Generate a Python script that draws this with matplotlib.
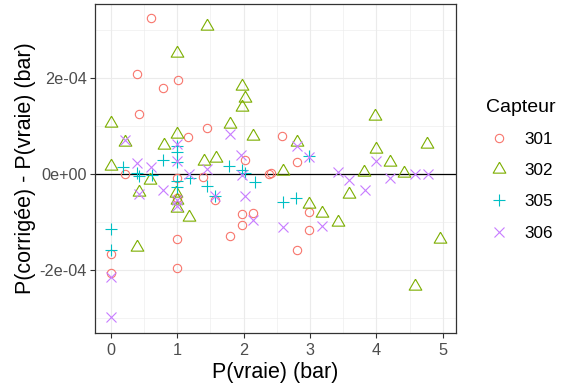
import numpy as np
import matplotlib
matplotlib.use("Agg")
import matplotlib.pyplot as plt

plt.rcParams['font.family'] = ['Liberation Sans', 'DejaVu Sans']

# P(vraie) en bar, ecart en unites de 1e-04 bar
x_301 = [0.61, 0.40, 1.01, 0.79, 0.42, 1.45, 1.17, 2.02, 2.38, 2.42, 2.58, 2.81,
         0.21, 1.00, 1.39, 1.57, 1.97, 2.15, 1.97, 1.80, 1.00, 1.00, 0.00, 0.00,
         2.98, 2.98, 2.81, 1.00]
y_301 = [3.25, 2.10, 1.96, 1.79, 1.26, 0.96, 0.78, 0.29, 0.00, 0.03, 0.80, 0.26,
         0.00, -0.08, -0.05, -0.54, -0.83, -0.81, -1.06, -1.29, -1.35, -1.95, -1.65, -2.05,
         -0.78, -1.16, -1.58, -0.50]

x_302 = [1.45, 1.00, 1.97, 2.02, 1.97, 0.01, 1.79, 1.00, 2.15, 0.22, 0.80, 0.00,
         1.41, 1.58, 3.98, 2.81, 4.77, 4.00, 4.20, 2.59, 3.82, 4.41, 0.59, 0.42,
         0.98, 1.00, 1.00, 1.18, 0.39, 3.59, 2.98, 3.18, 3.42, 4.96, 4.59]
y_302 = [3.08, 2.52, 1.84, 1.60, 1.40, 1.06, 1.05, 0.85, 0.80, 0.68, 0.61, 0.18,
         0.28, 0.33, 1.21, 0.68, 0.63, 0.52, 0.25, 0.07, 0.05, 0.03, -0.12, -0.36,
         -0.38, -0.54, -0.70, -0.88, -1.52, -0.40, -0.62, -0.80, -0.99, -1.35, -2.33]

x_305 = [0.00, 0.00, 0.19, 0.39, 0.42, 0.62, 0.79, 1.00, 1.00, 1.00, 1.00, 1.00,
         1.19, 1.45, 1.57, 1.78, 1.97, 2.02, 2.17, 2.59, 2.79, 2.98]
y_305 = [-1.14, -1.58, 0.15, 0.02, -0.04, -0.02, 0.30, 0.60, 0.47, 0.26, -0.13, -0.26,
         -0.08, -0.24, -0.45, 0.17, 0.10, 0.02, -0.15, -0.58, -0.49, 0.38]

x_306 = [0.00, 0.00, 0.22, 0.39, 0.60, 0.79, 1.00, 1.00, 1.00, 1.00, 1.18, 1.45,
         1.57, 1.79, 1.96, 1.97, 2.02, 2.15, 2.60, 2.81, 2.98, 3.18, 3.43, 3.59,
         3.83, 4.00, 4.20, 4.59, 4.78, 0.42]
y_306 = [-2.13, -2.98, 0.71, 0.23, 0.16, -0.33, 0.63, 0.28, -0.54, -0.66, 0.00, 0.12,
         -0.46, 0.84, 0.40, -0.01, -0.45, -0.95, -1.09, 0.58, 0.37, -1.08, 0.05, -0.12,
         -0.33, 0.28, -0.07, 0.01, 0.01, -0.40]

capteurs = ["301", "302", "305", "306"]
x_ticks = [0, 1, 2, 3, 4, 5]
y_ticks = [-2e-4, 0, 2e-4]
y_ticklabels = ["-2e-04", "0e+00", "2e-04"]

series = [(x_301, y_301), (x_302, y_302), (x_305, y_305), (x_306, y_306)]
colors = ["#F8766D", "#7CAE00", "#00BFC4", "#C77CFF"]
tri = [(0, 1), (-0.866, -0.5), (0.866, -0.5), (0, 1)]
markers = ["o", tri, "+", "x"]
msizes = [6.0, 10.5, 8.6, 7.2]

fig = plt.figure(figsize=(5.62, 3.91), dpi=100)
ax = fig.add_axes([0.1685, 0.149, 0.6429, 0.8408])

ax.set_xlim(-0.241, 5.2)
ax.set_ylim(-3.30e-4, 3.548e-4)

# grille facon theme_bw
for v in np.arange(0, 5.5, 1):
    ax.axvline(v, color="#EBEBEB", lw=0.8, zorder=0)
for v in np.arange(0.5, 5.0, 1):
    ax.axvline(v, color="#EBEBEB", lw=0.4, zorder=0)
for v in y_ticks:
    ax.axhline(v, color="#EBEBEB", lw=0.8, zorder=0)
for v in [-3e-4, -1e-4, 1e-4, 3e-4]:
    ax.axhline(v, color="#EBEBEB", lw=0.4, zorder=0)

ax.axhline(0, color="black", lw=0.9, zorder=1)

for (xs, ys), c, m, s, lab in zip(series, colors, markers, msizes, capteurs):
    ax.plot(xs, np.array(ys) * 1e-4, linestyle="none", marker=m, ms=s,
            mfc="none", mec=c, mew=0.8, label=lab, zorder=3)

ax.set_xticks(x_ticks)
ax.set_xticklabels([str(t) for t in x_ticks])
ax.set_yticks(y_ticks)
ax.set_yticklabels(y_ticklabels)
ax.tick_params(colors="#333333", labelcolor="#4D4D4D", labelsize=11.7,
               length=3.5, width=0.8, pad=2)
ax.tick_params(axis="x", pad=4)

for sp in ax.spines.values():
    sp.set_color("#333333")
    sp.set_linewidth(0.9)

ax.set_xlabel("P(vraie) (bar)", fontsize=15.5, labelpad=3)
ax.set_ylabel("P(corrigée) - P(vraie) (bar)", fontsize=15.5, labelpad=3)

leg = fig.legend(loc="upper left", bbox_to_anchor=(0.838, 0.787), frameon=False,
                 title="Capteur", fontsize=12.3, title_fontsize=14,
                 labelspacing=0.95, handlelength=1.5, handletextpad=0.7)
leg._legend_box.align = "left"

fig.savefig("out.png", dpi=100)
